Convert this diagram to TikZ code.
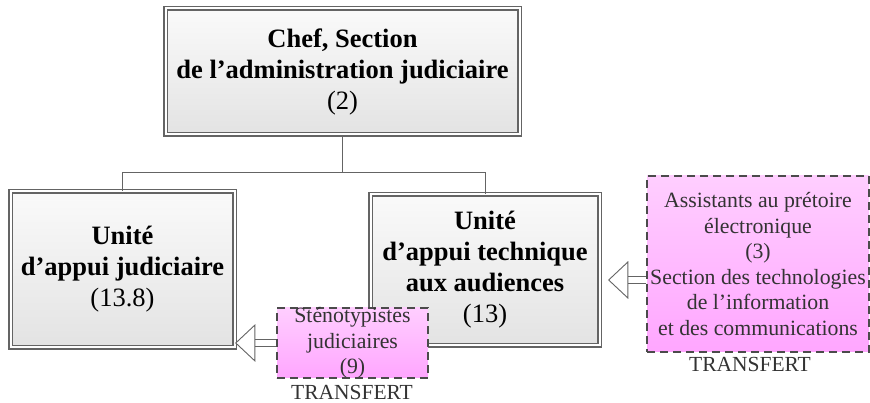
\documentclass[tikz,border=0pt]{standalone}
\usepackage{fontspec}
\setmainfont{Liberation Serif}
\usetikzlibrary{arrows.meta,shadows}
\definecolor{pinktop}{RGB}{255,206,255}
\definecolor{pinkbot}{RGB}{255,166,255}
\definecolor{boxline}{RGB}{100,100,100}
\newcommand{\unitfont}{\fontsize{26.5}{31}\selectfont}
\newcommand{\movefont}{\fontsize{21.8}{25.5}\selectfont}

\begin{document}
\begin{tikzpicture}[x=1pt,y=1pt]
        \tikzstyle{unit}=[draw=boxline, line width=1.2pt, double=white, double distance=2pt,
          top color=white!98!black, bottom color=white!89!black,
          drop shadow={opacity=0.12,shadow xshift=1.5pt,shadow yshift=-1.5pt},
          align=center, font=\unitfont, text=black, inner sep=0pt];
        \tikzstyle{moved}=[draw=boxline!75!black, line width=1.2pt, dash pattern=on 8pt off 5pt,
          top color=pinktop, bottom color=pinkbot,
          align=center, font=\movefont, text=black!80, inner sep=0pt];
        \tikzstyle{tag}=[font=\fontsize{21.5}{24}\selectfont, text=black!80, inner sep=0pt];
        \tikzstyle{hollow}=[draw=boxline, line width=0.9pt, double=white, double distance=6pt,
          -{Triangle[open,fill=white,length=15pt,width=28pt,line width=0.9pt,scale=1.35]}];
        \useasboundingbox (0,0) rectangle (870,403);

        \node[unit, minimum width=354pt, minimum height=126pt] (chef) at (342.5,331.5)
          {\textbf{Chef, Section}\\\textbf{de l’administration judiciaire}\\(2)};
        \node[unit, minimum width=224pt, minimum height=156pt] (judic) at (122.5,133.5)
          {\textbf{Unité}\\\textbf{d’appui judiciaire}\\(13.8)};
        \node[unit, minimum width=229pt, minimum height=151pt] (tech) at (485,133)
          {\textbf{Unité}\\\textbf{d’appui technique}\\\textbf{aux audiences}\\(13)};

        \node[moved, minimum width=151pt, minimum height=70pt, inner ysep=-1pt] (steno) at (352.5,60)
          {Sténotypistes\\judiciaires\\(9)};
        \node[moved, minimum width=222pt, minimum height=176pt] (assist) at (758,139)
          {Assistants au prétoire\\électronique\\(3)\\Section des technologies\\de l’information\\et des communications};
        \node[tag] (tagsteno) at (352,11) {TRANSFERT};
        \node[tag] (tagassist) at (750,39) {TRANSFERT};

        % organigramme
        \coordinate (fork) at (chef.south |- 0,230);
        \draw[boxline, line width=1pt] (chef.south) -- (fork) -| (judic.north);
        \draw[boxline, line width=1pt] (fork) -| (tech.north);

        % transferts
        \coordinate (tiptech) at (608,123);
        \draw[hollow] (steno.west) -- (steno.west -| judic.east);
        \draw[hollow] (assist.west |- tiptech) -- (tiptech);
\end{tikzpicture}
\end{document}
